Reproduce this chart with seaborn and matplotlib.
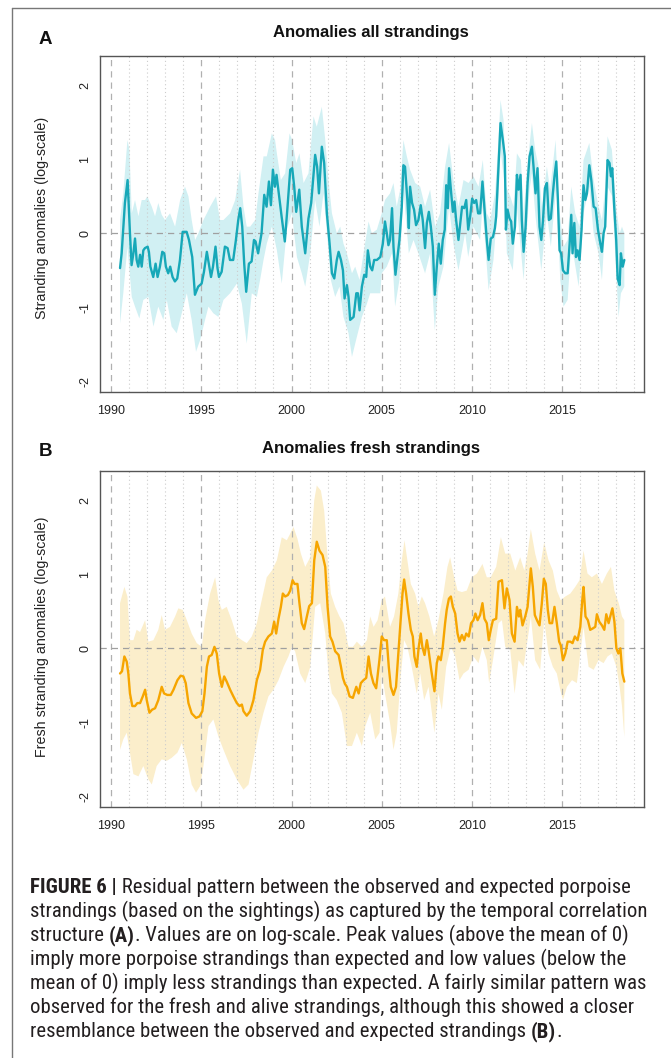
import matplotlib
matplotlib.use("Agg")
import matplotlib.pyplot as plt
import seaborn as sns
import pandas as pd
from matplotlib.lines import Line2D

# ---------------- data ----------------
A_line = [
 (1990.50,-0.47),(1990.59,-0.27),(1990.77,0.41),(1990.92,0.72),(1991.05,0.00),(1991.14,-0.43),(1991.24,-0.27),
 (1991.33,-0.07),(1991.42,-0.36),(1991.51,-0.45),(1991.61,-0.29),(1991.70,-0.45),(1991.79,-0.23),(1991.88,-0.20),
 (1992.03,-0.18),(1992.10,-0.25),(1992.18,-0.45),(1992.34,-0.59),(1992.47,-0.41),(1992.58,-0.59),(1992.71,-0.45),
 (1992.84,-0.25),(1992.95,-0.27),(1993.04,-0.45),(1993.17,-0.54),(1993.28,-0.45),(1993.41,-0.59),(1993.54,-0.65),
 (1993.67,-0.61),(1993.82,-0.36),(1993.97,0.02),(1994.19,0.02),(1994.32,-0.09),(1994.50,-0.32),(1994.65,-0.83),
 (1994.83,-0.72),(1995.02,-0.68),(1995.15,-0.52),(1995.31,-0.25),(1995.42,-0.41),(1995.54,-0.59),(1995.65,-0.45),
 (1995.79,-0.18),(1995.90,-0.47),(1995.98,-0.59),(1996.13,-0.52),(1996.31,-0.18),(1996.46,-0.20),(1996.59,-0.36),
 (1996.77,-0.36),(1996.92,-0.09),(1997.05,0.18),(1997.16,0.34),(1997.27,0.09),(1997.38,-0.41),(1997.49,-0.79),
 (1997.64,-0.41),(1997.79,-0.38),(1997.92,-0.09),(1998.01,-0.11),(1998.15,-0.27),(1998.34,0.00),(1998.49,0.52),
 (1998.62,0.36),(1998.75,0.70),(1998.86,0.38),(1998.97,0.86),(1999.08,0.63),(1999.17,0.79),(1999.26,0.61),
 (1999.45,0.23),(1999.63,-0.11),(1999.78,0.36),(1999.93,0.86),(2000.04,0.88),(2000.15,0.63),(2000.26,0.29),
 (2000.43,0.59),(2000.57,0.09),(2000.76,-0.27),(2000.94,0.20),(2001.09,0.41),(2001.18,0.68),(2001.31,1.06),
 (2001.42,0.90),(2001.52,0.54),(2001.68,1.17),(2001.81,0.95),(2001.96,0.27),(2002.11,-0.14),(2002.24,-0.54),
 (2002.37,-0.61),(2002.51,-0.36),(2002.61,-0.25),(2002.74,-0.36),(2002.85,-0.50),(2002.94,-0.88),(2003.07,-0.70),
 (2003.16,-0.86),(2003.25,-1.17),(2003.44,-1.13),(2003.59,-0.81),(2003.68,-0.81),(2003.77,-1.04),(2003.90,-0.72),
 (2004.03,-0.56),(2004.14,-0.59),(2004.23,-0.23),(2004.36,-0.45),(2004.47,-0.50),(2004.58,-0.36),(2004.73,-0.36),
 (2004.92,-0.32),(2005.06,-0.14),(2005.18,0.16),(2005.28,0.00),(2005.37,-0.16),(2005.46,-0.09),(2005.57,0.34),
 (2005.65,-0.18),(2005.76,-0.56),(2005.87,-0.32),(2005.98,-0.09),(2006.11,0.36),(2006.20,0.92),(2006.29,0.90),
 (2006.42,0.45),(2006.50,0.07),(2006.57,0.63),(2006.68,0.41),(2006.79,0.32),(2006.90,0.11),(2007.03,0.18),
 (2007.16,0.38),(2007.27,0.18),(2007.40,-0.20),(2007.50,0.14),(2007.61,0.29),(2007.72,0.09),(2007.83,-0.18),
 (2007.94,-0.83),(2008.05,-0.45),(2008.16,-0.14),(2008.27,-0.41),(2008.38,-0.09),(2008.49,0.05),(2008.57,0.65),
 (2008.66,0.34),(2008.73,0.88),(2008.83,0.59),(2008.94,0.29),(2009.03,0.43),(2009.12,0.18),(2009.25,-0.09),
 (2009.34,0.11),(2009.45,0.36),(2009.57,0.34),(2009.68,0.45),(2009.79,0.05),(2009.90,0.23),(2010.01,0.47),
 (2010.12,0.41),(2010.23,0.45),(2010.34,0.27),(2010.45,0.27),(2010.58,0.70),(2010.69,0.34),(2010.82,-0.09),
 (2010.92,-0.36),(2011.04,-0.07),(2011.16,-0.05),(2011.27,0.07),(2011.34,0.23),(2011.47,0.90),(2011.58,1.49),
 (2011.71,1.26),(2011.82,1.04),(2011.88,0.05),(2011.97,0.32),(2012.08,0.20),(2012.17,0.16),(2012.26,-0.14),
 (2012.38,0.09),(2012.49,0.79),(2012.58,0.59),(2012.69,0.79),(2012.76,0.18),(2012.86,-0.25),(2012.97,0.09),
 (2013.08,0.68),(2013.19,1.04),(2013.32,1.17),(2013.41,0.90),(2013.52,0.54),(2013.63,0.88),(2013.74,0.09),
 (2013.84,-0.09),(2013.93,0.16),(2014.04,0.61),(2014.15,0.68),(2014.26,0.18),(2014.37,0.20),(2014.48,0.54),
 (2014.57,0.77),(2014.67,0.97),(2014.76,0.45),(2014.85,-0.23),(2014.94,-0.27),(2015.04,-0.50),(2015.17,-0.54),
 (2015.30,-0.54),(2015.41,-0.14),(2015.50,0.25),(2015.57,-0.27),(2015.67,0.14),(2015.76,-0.32),(2015.85,-0.23),
 (2015.96,-0.36),(2016.07,0.05),(2016.18,0.65),(2016.28,0.45),(2016.37,0.54),(2016.50,0.92),(2016.61,0.72),
 (2016.74,0.36),(2016.85,0.34),(2016.98,0.05),(2017.11,-0.14),(2017.20,-0.25),(2017.29,0.00),(2017.38,0.09),
 (2017.51,0.99),(2017.62,0.95),(2017.70,0.77),(2017.77,0.88),(2017.88,0.36),(2017.99,-0.09),(2018.07,-0.61),
 (2018.18,-0.70),(2018.25,-0.27),(2018.35,-0.45),(2018.44,-0.36),
]
A_upper = [
 (1990.50,0.18),(1990.68,0.54),(1990.91,1.26),(1991.02,1.13),(1991.15,0.27),(1991.33,0.45),(1991.52,0.23),
 (1991.70,0.45),(1991.89,0.45),(1992.01,0.50),(1992.26,0.36),(1992.44,0.23),(1992.62,0.41),(1992.81,0.25),
 (1992.99,0.18),(1993.27,0.27),(1993.55,0.09),(1993.83,0.45),(1994.10,0.63),(1994.29,0.50),(1994.47,0.18),
 (1994.66,-0.09),(1994.84,0.00),(1995.12,0.18),(1995.31,0.27),(1995.49,0.36),(1995.82,0.50),(1996.04,0.18),
 (1996.23,0.18),(1996.60,0.27),(1996.88,0.45),(1997.15,0.86),(1997.34,0.36),(1997.52,0.09),(1997.71,0.09),
 (1997.99,0.18),(1998.17,0.54),(1998.45,1.04),(1998.63,1.04),(1998.91,1.35),(1999.09,1.26),(1999.19,1.08),
 (1999.41,0.72),(1999.65,0.81),(1999.89,1.35),(2000.04,1.26),(2000.26,0.95),(2000.44,1.08),(2000.67,0.68),
 (2000.94,0.81),(2001.22,1.58),(2001.40,1.44),(2001.68,1.71),(2001.87,1.26),(2002.05,0.72),(2002.24,0.27),
 (2002.51,0.00),(2002.70,0.09),(2002.88,-0.14),(2003.07,-0.27),(2003.35,-0.54),(2003.53,-0.45),(2003.77,-0.63),
 (2003.99,-0.27),(2004.27,0.16),(2004.45,0.00),(2004.73,0.05),(2005.00,0.27),(2005.18,0.45),(2005.46,0.54),
 (2005.65,0.68),(2005.83,0.36),(2006.02,0.59),(2006.20,1.26),(2006.39,1.04),(2006.57,0.86),(2006.85,0.68),
 (2007.13,0.63),(2007.40,0.36),(2007.68,0.59),(2007.96,0.09),(2008.23,0.27),(2008.51,0.90),(2008.73,1.22),
 (2008.97,0.72),(2009.25,0.36),(2009.53,0.72),(2009.81,0.68),(2010.08,0.77),(2010.36,0.63),(2010.60,0.99),
 (2010.82,0.27),(2011.01,0.18),(2011.28,0.54),(2011.47,1.26),(2011.58,1.80),(2011.75,1.53),(2011.89,0.63),
 (2012.12,0.50),(2012.30,0.36),(2012.49,1.08),(2012.71,0.99),(2012.86,0.27),(2013.08,0.95),(2013.32,1.49),
 (2013.50,1.13),(2013.69,0.90),(2013.87,0.36),(2014.15,0.90),(2014.33,0.59),(2014.63,1.26),(2014.82,0.36),
 (2015.07,-0.18),(2015.30,-0.09),(2015.50,0.63),(2015.72,0.27),(2015.96,0.09),(2016.18,0.99),(2016.50,1.22),
 (2016.74,0.72),(2017.01,0.36),(2017.20,0.18),(2017.38,0.63),(2017.51,1.31),(2017.75,1.13),(2017.99,0.36),
 (2018.18,0.00),(2018.31,0.09),(2018.44,0.00),
]
A_lower = [
 (1990.50,-1.22),(1990.68,-0.81),(1990.91,-0.18),(1991.15,-0.86),(1991.33,-0.99),(1991.57,-1.15),(1991.79,-0.90),
 (1992.07,-0.86),(1992.35,-1.26),(1992.62,-0.99),(1992.90,-1.17),(1993.09,-0.90),(1993.36,-1.26),(1993.64,-1.35),
 (1993.92,-1.08),(1994.20,-0.81),(1994.47,-1.17),(1994.71,-1.60),(1994.94,-1.44),(1995.21,-1.17),(1995.40,-0.99),
 (1995.67,-1.08),(1995.95,-1.13),(1996.23,-0.90),(1996.60,-0.81),(1996.97,-0.68),(1997.25,-0.95),(1997.52,-1.49),
 (1997.80,-0.81),(1998.08,-0.86),(1998.26,-0.63),(1998.45,-0.36),(1998.63,-0.14),(1998.91,0.09),(1999.19,-0.23),
 (1999.46,-0.68),(1999.74,0.05),(2000.02,0.27),(2000.30,-0.32),(2000.57,-0.54),(2000.76,-0.72),(2001.04,-0.27),
 (2001.31,0.45),(2001.55,0.09),(2001.77,0.54),(2002.00,-0.09),(2002.18,-0.63),(2002.42,-0.86),(2002.66,-0.72),
 (2002.88,-1.13),(2003.16,-1.35),(2003.35,-1.67),(2003.62,-1.40),(2003.90,-1.13),(2004.18,-0.95),(2004.36,-0.81),
 (2004.64,-0.81),(2004.92,-0.81),(2005.00,-0.54),(2005.28,-0.45),(2005.57,-0.27),(2005.74,-0.99),(2005.98,-0.63),
 (2006.20,0.59),(2006.50,-0.27),(2006.76,-0.09),(2007.03,-0.27),(2007.40,-0.54),(2007.68,-0.27),(2007.94,-1.31),
 (2008.14,-0.72),(2008.42,-0.45),(2008.73,0.36),(2008.97,-0.14),(2009.25,-0.50),(2009.62,0.00),(2009.79,-0.32),
 (2010.08,0.09),(2010.45,-0.09),(2010.58,0.36),(2010.92,-0.77),(2011.19,-0.36),(2011.47,0.50),(2011.58,1.13),
 (2011.82,0.63),(2011.93,-0.27),(2012.26,-0.50),(2012.49,0.36),(2012.86,-0.63),(2013.19,0.59),(2013.32,0.81),
 (2013.52,0.23),(2013.84,-0.50),(2014.15,0.27),(2014.37,-0.18),(2014.67,0.63),(2014.89,-0.63),(2015.07,-0.99),
 (2015.30,-0.90),(2015.50,-0.14),(2015.67,-0.36),(2015.91,-0.72),(2016.18,0.27),(2016.50,0.63),(2016.74,0.00),
 (2017.01,-0.27),(2017.20,-0.63),(2017.51,0.63),(2017.77,0.50),(2017.99,-0.54),(2018.12,-1.13),(2018.25,-0.81),
 (2018.44,-0.72),
]

B_line = [
 (1990.50,-0.34),(1990.61,-0.31),(1990.74,-0.11),(1990.87,-0.18),(1990.96,-0.34),(1991.05,-0.61),(1991.18,-0.78),
 (1991.33,-0.78),(1991.46,-0.74),(1991.61,-0.74),(1991.76,-0.65),(1991.89,-0.56),(1991.98,-0.70),(1992.13,-0.87),
 (1992.27,-0.83),(1992.44,-0.81),(1992.62,-0.70),(1992.81,-0.52),(1992.94,-0.61),(1993.12,-0.63),(1993.31,-0.63),
 (1993.46,-0.56),(1993.68,-0.43),(1993.86,-0.37),(1994.01,-0.38),(1994.14,-0.47),(1994.29,-0.74),(1994.47,-0.88),
 (1994.71,-0.94),(1994.90,-0.92),(1995.06,-0.85),(1995.18,-0.61),(1995.31,-0.25),(1995.43,-0.11),(1995.58,-0.09),
 (1995.73,0.02),(1995.86,-0.07),(1995.99,-0.34),(1996.14,-0.52),(1996.27,-0.38),(1996.41,-0.45),(1996.60,-0.56),
 (1996.78,-0.65),(1996.97,-0.74),(1997.12,-0.78),(1997.25,-0.76),(1997.34,-0.85),(1997.52,-0.91),(1997.71,-0.85),
 (1997.89,-0.70),(1998.08,-0.43),(1998.26,-0.29),(1998.41,-0.02),(1998.54,0.09),(1998.72,0.16),(1998.91,0.20),
 (1999.04,0.36),(1999.15,0.20),(1999.28,0.40),(1999.41,0.56),(1999.52,0.74),(1999.65,0.70),(1999.80,0.72),
 (1999.93,0.78),(2000.06,0.92),(2000.17,0.87),(2000.33,0.87),(2000.44,0.61),(2000.57,0.34),(2000.70,0.26),
 (2000.85,0.43),(2000.98,0.57),(2001.13,0.61),(2001.26,1.19),(2001.40,1.44),(2001.55,1.32),(2001.72,1.26),
 (2001.87,1.10),(2002.00,0.56),(2002.14,0.16),(2002.27,0.09),(2002.42,-0.04),(2002.61,-0.09),(2002.74,-0.25),
 (2002.85,-0.40),(2002.96,-0.48),(2003.07,-0.52),(2003.22,-0.65),(2003.40,-0.67),(2003.59,-0.52),(2003.72,-0.61),
 (2003.84,-0.47),(2003.99,-0.43),(2004.14,-0.40),(2004.27,-0.11),(2004.40,-0.34),(2004.54,-0.47),(2004.69,-0.54),
 (2004.87,-0.16),(2005.00,0.16),(2005.13,0.11),(2005.28,0.11),(2005.39,-0.25),(2005.50,-0.52),(2005.65,-0.63),
 (2005.79,-0.52),(2005.92,-0.07),(2006.05,0.38),(2006.15,0.74),(2006.24,0.93),(2006.35,0.74),(2006.48,0.47),
 (2006.61,0.25),(2006.72,0.16),(2006.81,-0.11),(2006.94,-0.25),(2007.05,0.02),(2007.16,0.20),(2007.25,0.02),
 (2007.37,-0.09),(2007.50,0.11),(2007.59,-0.02),(2007.74,-0.29),(2007.92,-0.58),(2008.05,-0.20),(2008.14,-0.11),
 (2008.27,-0.16),(2008.38,0.02),(2008.51,0.34),(2008.60,0.52),(2008.72,0.67),(2008.83,0.70),(2008.94,0.56),
 (2009.07,0.47),(2009.20,0.20),(2009.31,0.09),(2009.44,0.18),(2009.57,0.11),(2009.68,0.20),(2009.82,0.16),
 (2009.95,0.34),(2010.08,0.38),(2010.19,0.47),(2010.31,0.38),(2010.45,0.45),(2010.58,0.61),(2010.69,0.40),
 (2010.82,0.34),(2010.93,0.11),(2011.04,0.25),(2011.16,0.38),(2011.34,0.40),(2011.47,0.90),(2011.66,0.92),
 (2011.80,0.54),(2011.93,0.81),(2012.08,0.65),(2012.21,0.20),(2012.36,0.09),(2012.49,0.56),(2012.60,0.43),
 (2012.67,0.52),(2012.80,0.31),(2012.95,0.43),(2013.08,0.56),(2013.19,0.87),(2013.26,1.08),(2013.37,0.83),
 (2013.48,0.45),(2013.60,0.38),(2013.74,0.31),(2013.87,0.61),(2013.98,0.94),(2014.09,0.87),(2014.20,0.52),
 (2014.30,0.34),(2014.44,0.34),(2014.57,0.56),(2014.70,0.34),(2014.83,0.09),(2014.92,0.04),(2015.04,-0.16),
 (2015.17,-0.07),(2015.30,0.09),(2015.45,0.09),(2015.57,0.07),(2015.70,0.16),(2015.85,0.11),(2016.00,0.29),
 (2016.11,0.65),(2016.18,0.83),(2016.29,0.43),(2016.42,0.38),(2016.55,0.25),(2016.70,0.27),(2016.83,0.29),
 (2016.92,0.46),(2017.05,0.36),(2017.20,0.31),(2017.33,0.25),(2017.44,0.46),(2017.57,0.34),(2017.66,0.43),
 (2017.78,0.54),(2017.89,0.36),(2018.00,0.00),(2018.11,-0.07),(2018.22,0.00),(2018.33,-0.34),(2018.44,-0.45),
]
B_upper = [
 (1990.50,0.61),(1990.74,0.83),(1990.91,0.70),(1991.05,0.11),(1991.24,0.11),(1991.42,0.25),(1991.61,0.22),
 (1991.89,0.38),(1992.07,0.09),(1992.35,0.11),(1992.62,0.25),(1992.81,0.45),(1992.99,0.25),(1993.27,0.29),
 (1993.55,0.43),(1993.73,0.54),(1993.97,0.52),(1994.20,0.38),(1994.47,0.20),(1994.75,0.07),(1995.03,0.02),
 (1995.21,0.38),(1995.49,0.74),(1995.77,0.96),(1995.95,0.65),(1996.14,0.52),(1996.41,0.56),(1996.69,0.38),
 (1996.97,0.16),(1997.25,0.11),(1997.52,0.07),(1997.80,0.16),(1998.08,0.34),(1998.35,0.65),(1998.63,0.96),
 (1998.91,1.05),(1999.19,1.19),(1999.46,1.50),(1999.74,1.46),(1999.93,1.55),(2000.11,1.64),(2000.33,1.48),
 (2000.52,1.28),(2000.76,1.10),(2001.04,1.23),(2001.26,2.00),(2001.40,2.20),(2001.63,2.13),(2001.81,1.86),
 (2002.00,1.23),(2002.18,0.74),(2002.42,0.56),(2002.66,0.43),(2002.88,0.34),(2003.16,0.02),(2003.40,0.02),
 (2003.62,0.09),(2003.90,0.02),(2004.18,0.11),(2004.36,0.43),(2004.55,0.29),(2004.77,0.38),(2005.00,0.65),
 (2005.18,0.70),(2005.46,0.29),(2005.68,0.43),(2005.92,0.74),(2006.11,1.19),(2006.26,1.46),(2006.42,1.19),
 (2006.61,0.87),(2006.85,0.74),(2007.03,0.56),(2007.22,0.70),(2007.40,0.61),(2007.64,0.43),(2007.90,0.16),
 (2008.14,0.38),(2008.42,0.74),(2008.64,1.10),(2008.79,1.23),(2008.97,1.01),(2009.20,0.78),(2009.44,0.76),
 (2009.71,0.78),(2009.99,0.96),(2010.27,1.01),(2010.58,1.14),(2010.82,0.96),(2011.04,0.96),(2011.34,1.10),
 (2011.60,1.50),(2011.84,1.28),(2012.12,1.28),(2012.40,1.05),(2012.67,1.23),(2012.90,1.05),(2013.08,1.28),
 (2013.26,1.61),(2013.50,1.28),(2013.74,1.05),(2014.00,1.43),(2014.24,1.19),(2014.48,1.05),(2014.70,0.78),
 (2014.92,0.65),(2015.17,0.70),(2015.45,0.74),(2015.72,0.83),(2015.96,0.92),(2016.18,1.32),(2016.40,1.01),
 (2016.64,0.96),(2016.92,1.01),(2017.20,0.87),(2017.47,1.01),(2017.70,1.10),(2017.89,0.78),(2018.13,0.61),
 (2018.31,0.43),(2018.44,0.38),
]
B_lower = [
 (1990.50,-1.37),(1990.68,-1.23),(1990.87,-1.14),(1991.05,-1.41),(1991.24,-1.70),(1991.52,-1.73),(1991.79,-1.59),
 (1992.07,-1.77),(1992.26,-1.84),(1992.53,-1.59),(1992.81,-1.50),(1993.09,-1.52),(1993.36,-1.48),(1993.68,-1.41),
 (1993.92,-1.28),(1994.20,-1.50),(1994.47,-1.84),(1994.71,-1.95),(1994.94,-1.86),(1995.12,-1.59),(1995.40,-1.05),
 (1995.67,-0.96),(1995.95,-1.19),(1996.23,-1.37),(1996.60,-1.59),(1996.97,-1.77),(1997.34,-1.91),(1997.62,-1.84),
 (1997.89,-1.50),(1998.17,-1.14),(1998.45,-0.87),(1998.72,-0.65),(1999.00,-0.56),(1999.28,-0.43),(1999.56,-0.25),
 (1999.83,-0.11),(2000.02,0.02),(2000.20,-0.04),(2000.48,-0.34),(2000.76,-0.47),(2001.04,-0.25),(2001.31,0.56),
 (2001.59,0.61),(2001.87,0.20),(2002.05,-0.34),(2002.24,-0.61),(2002.51,-0.70),(2002.79,-0.87),(2003.07,-1.32),
 (2003.35,-1.32),(2003.62,-1.14),(2003.90,-1.32),(2004.09,-1.05),(2004.36,-0.87),(2004.64,-1.23),(2004.88,-1.14),
 (2005.00,-0.34),(2005.18,-0.61),(2005.46,-1.01),(2005.65,-1.37),(2005.83,-1.14),(2006.05,-0.38),(2006.24,0.11),
 (2006.42,0.02),(2006.66,-0.25),(2006.94,-0.61),(2007.13,-0.34),(2007.35,-0.70),(2007.59,-0.52),(2007.92,-1.14),
 (2008.14,-0.61),(2008.33,-0.83),(2008.57,-0.25),(2008.83,0.02),(2009.07,-0.11),(2009.31,-0.43),(2009.53,-0.34),
 (2009.81,-0.29),(2010.08,-0.11),(2010.36,-0.20),(2010.58,0.02),(2010.82,-0.16),(2010.95,-0.47),(2011.16,-0.16),
 (2011.47,0.34),(2011.66,0.38),(2011.84,0.02),(2012.12,-0.02),(2012.36,-0.61),(2012.58,-0.16),(2012.86,-0.25),
 (2013.13,0.20),(2013.26,0.43),(2013.50,-0.16),(2013.78,-0.29),(2014.00,0.38),(2014.24,-0.07),(2014.48,-0.25),
 (2014.70,-0.34),(2014.89,-0.56),(2015.04,-0.70),(2015.26,-0.52),(2015.54,-0.43),(2015.81,-0.47),(2016.00,-0.07),
 (2016.18,0.29),(2016.46,-0.25),(2016.74,-0.29),(2017.01,-0.16),(2017.29,-0.20),(2017.51,-0.11),(2017.75,-0.07),
 (2018.00,-0.25),(2018.18,-0.52),(2018.31,-0.78),(2018.44,-1.20),
]

x_ticks = [1990, 1995, 2000, 2005, 2010, 2015]
y_ticks = [-2, -1, 0, 1, 2]
titles = ["Anomalies all strandings", "Anomalies fresh strandings"]
ylabels = ["Stranding anomalies (log-scale)", "Fresh stranding anomalies (log-scale)"]
letters = ["A", "B"]
caption = [
    [("FIGURE 6 |", "bold"), (" Residual pattern between the observed and expected porpoise", "normal")],
    [("strandings (based on the sightings) as captured by the temporal correlation", "normal")],
    [("structure ", "normal"), ("(A)", "bold"), (". Values are on log-scale. Peak values (above the mean of 0)", "normal")],
    [("imply more porpoise strandings than expected and low values (below the", "normal")],
    [("mean of 0) imply less strandings than expected. A fairly similar pattern was", "normal")],
    [("observed for the fresh and alive strandings, although this showed a closer", "normal")],
    [("resemblance between the observed and expected strandings ", "normal"), ("(B)", "bold"), (".", "normal")],
]

# ---------------- figure ----------------
sns.set_style("white")
plt.rcParams['font.family'] = ['Liberation Sans', 'DejaVu Sans']

W, H = 671, 1058
fig = plt.figure(figsize=(W / 100, H / 100), dpi=100)
fig.patch.set_facecolor("white")

def axes_px(l, t, r, b):
    return fig.add_axes([l / W, 1 - b / H, (r - l) / W, (b - t) / H])

axA = axes_px(100, 55.7, 644, 391.7)
axB = axes_px(100, 470.7, 644, 806.7)

def draw_panel(ax, line, upper, lower, lc, fc):
    ax.set_xlim(1989.39, 2019.53)
    ax.set_ylim(-2.14, 2.40)
    for yr in range(1990, 2020):
        if yr % 5 == 0:
            ax.axvline(yr, color="#b0b0b0", lw=0.9, ls=(0, (5, 4)), zorder=2)
        else:
            ax.axvline(yr, color="#cccccc", lw=0.8, ls=(0, (1, 2.5)), zorder=2)
    ax.axhline(0, color="#a0a0a0", lw=0.9, ls=(0, (5, 4)), zorder=2)
    ux, uy = zip(*upper)
    lx, ly = zip(*lower)
    ax.fill(list(ux) + list(lx)[::-1], list(uy) + list(ly)[::-1],
            color=fc, lw=0, zorder=1)
    df = pd.DataFrame(line, columns=["year", "anom"])
    sns.lineplot(data=df, x="year", y="anom", ax=ax, color=lc, lw=1.7,
                 estimator=None, sort=False, zorder=3)
    ax.set_xlabel("")
    ax.set_ylabel("")
    ax.set_xticks(x_ticks)
    ax.set_xticklabels([str(t) for t in x_ticks])
    ax.set_yticks(y_ticks)
    ax.set_yticklabels([str(t) for t in y_ticks], rotation=90, va="center")
    ax.tick_params(axis="both", direction="out", length=5.8, width=0.8, color="#444444",
                   labelsize=9, labelcolor="#222222")
    ax.tick_params(axis="x", pad=4)
    ax.tick_params(axis="y", pad=0.5)
    for s in ax.spines.values():
        s.set_visible(True)
        s.set_color("#555555")
        s.set_linewidth(1.0)

draw_panel(axA, A_line, A_upper, A_lower, "#17a8b8", "#d1f0f3")
draw_panel(axB, B_line, B_upper, B_lower, "#f6a500", "#fbeecb")

# titles, letters, y labels
for i, (tt, yl, lt) in enumerate(zip(titles, ylabels, letters)):
    ty = [33, 448][i]
    fig.text(371 / W, 1 - ty / H, tt, ha="center", va="center",
             fontsize=12, fontweight="bold", color="#111111")
    fig.text(45 / W, 1 - ([40, 451][i]) / H, lt, ha="center", va="center",
             fontsize=13.5, fontweight="bold", color="#111111")
    fig.text(42 / W, 1 - ([218, 637][i]) / H, yl, ha="center", va="center",
             rotation=90, fontsize=10.3, color="#222222")

# frame lines (top and left edges of the figure box)
fig.add_artist(Line2D([12 / W, 1.0], [1 - 8 / H, 1 - 8 / H], color="#777777", lw=1.0))
fig.add_artist(Line2D([12 / W, 12 / W], [1 - 8 / H, 0.0], color="#777777", lw=1.0))

# caption
renderer = fig.canvas.get_renderer()
cap_family = ['Roboto Condensed', 'Roboto', 'Liberation Sans', 'DejaVu Sans']

def line_width(segs, fs):
    tot = 0
    for txt, wt in segs:
        t = fig.text(0, 0, txt, fontsize=fs, fontweight=wt, family=cap_family)
        tot += t.get_window_extent(renderer).width
        t.remove()
    return tot

fs0 = 12.0
w0 = 0.5 * (line_width(caption[0], fs0) + line_width(caption[1], fs0))
fs = fs0 * 606.0 / w0

for k, segs in enumerate(caption):
    x = 30.0
    ybase = 893 + 24 * k
    for txt, wt in segs:
        t = fig.text(x / W, 1 - ybase / H, txt, fontsize=fs, fontweight=wt,
                     family=cap_family, ha="left", va="baseline", color="#231f20")
        x += t.get_window_extent(renderer).width

fig.savefig("out.png", dpi=100)
